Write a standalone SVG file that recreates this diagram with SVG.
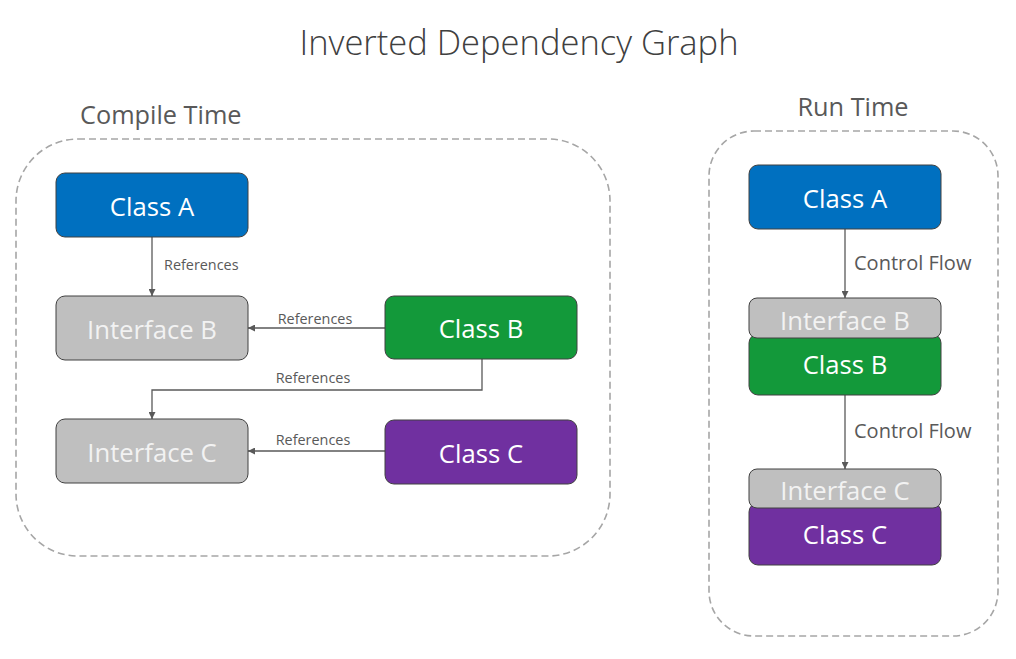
<svg xmlns="http://www.w3.org/2000/svg" width="1016" height="659" viewBox="0 0 1016 659">
<defs>
<style>
.t{font-family:"Open Sans","Noto Sans",sans-serif;}
.title{font-size:34.5px;font-weight:300;fill:#404040;}
.sec{font-size:25.3px;fill:#595959;}
.node{stroke:#404040;stroke-width:1;}
.nt{font-size:25.7px;fill:#ffffff;text-anchor:middle;dominant-baseline:central;}
.it{fill:#f2f2f2;}
.lbl{font-size:14.4px;fill:#595959;}
.cf{font-size:20px;fill:#595959;}
.edge{fill:none;stroke:#595959;stroke-width:1.3;}
.frame{fill:none;stroke:#a6a6a6;stroke-width:1.6;stroke-dasharray:7 4;}
</style>
<marker id="arr" viewBox="0 0 10 10" refX="10" refY="5" markerWidth="7" markerHeight="7" markerUnits="userSpaceOnUse" orient="auto">
<path d="M0,0 L10,5 L0,10 z" fill="#595959"/>
</marker>
</defs>
<rect width="1016" height="659" fill="#ffffff"/>
<text class="t title" x="519" y="55" text-anchor="middle">Inverted Dependency Graph</text>
<text class="t sec" x="80" y="124">Compile Time</text>
<text class="t sec" x="853" y="116" text-anchor="middle">Run Time</text>
<rect class="frame" x="16" y="139" width="594" height="417" rx="62"/>
<rect class="frame" x="709" y="131" width="289" height="505" rx="45"/>
<g id="connectors">
<path class="edge" d="M152,237 V296" marker-end="url(#arr)"/>
<text class="t lbl" x="164" y="270">References</text>
<path class="edge" d="M385,328 H248" marker-end="url(#arr)"/>
<text class="t lbl" x="315" y="324" text-anchor="middle">References</text>
<path class="edge" d="M482,359 V390 H152 V419" marker-end="url(#arr)"/>
<text class="t lbl" x="313" y="383" text-anchor="middle">References</text>
<path class="edge" d="M385,451 H248" marker-end="url(#arr)"/>
<text class="t lbl" x="313" y="445" text-anchor="middle">References</text>
<path class="edge" d="M845,229 V298" marker-end="url(#arr)"/>
<text class="t cf" x="854" y="270">Control Flow</text>
<path class="edge" d="M845,395 V469" marker-end="url(#arr)"/>
<text class="t cf" x="854" y="438">Control Flow</text>
</g>
<g id="ct-class-a"><rect class="node" x="56" y="173" width="192" height="64" rx="9" fill="#0070c0"/><text class="t nt" x="152" y="206">Class A</text></g>
<g id="ct-interface-b"><rect class="node" x="56" y="296" width="192" height="64" rx="9" fill="#bfbfbf"/><text class="t nt it" x="152" y="329">Interface B</text></g>
<g id="ct-class-b"><rect class="node" x="385" y="296" width="192" height="63" rx="9" fill="#13993a"/><text class="t nt" x="481" y="328">Class B</text></g>
<g id="ct-interface-c"><rect class="node" x="56" y="419" width="192" height="64" rx="9" fill="#bfbfbf"/><text class="t nt it" x="152" y="452">Interface C</text></g>
<g id="ct-class-c"><rect class="node" x="385" y="420" width="192" height="64" rx="9" fill="#7030a0"/><text class="t nt" x="481" y="453">Class C</text></g>
<g id="rt-class-a"><rect class="node" x="749" y="165" width="192" height="64" rx="9" fill="#0070c0"/><text class="t nt" x="845" y="198">Class A</text></g>
<g id="rt-class-b"><rect class="node" x="749" y="334" width="192" height="61" rx="9" fill="#13993a"/><text class="t nt" x="845" y="364">Class B</text></g>
<g id="rt-interface-b"><rect class="node" x="749" y="298" width="192" height="40" rx="8" fill="#bfbfbf"/><text class="t nt it" x="845" y="320">Interface B</text></g>
<g id="rt-class-c"><rect class="node" x="749" y="503" width="192" height="62" rx="9" fill="#7030a0"/><text class="t nt" x="845" y="534">Class C</text></g>
<g id="rt-interface-c"><rect class="node" x="749" y="469" width="192" height="39" rx="8" fill="#bfbfbf"/><text class="t nt it" x="845" y="490">Interface C</text></g>
</svg>
